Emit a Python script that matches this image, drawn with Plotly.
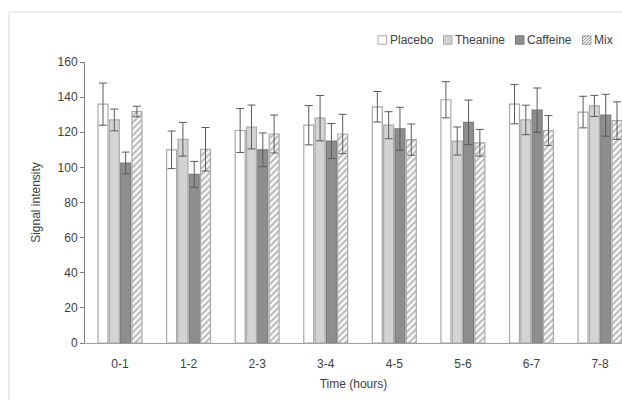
import plotly.graph_objects as go

categories = ["0-1", "1-2", "2-3", "3-4", "4-5", "5-6", "6-7", "7-8"]
series_names = ["Placebo", "Theanine", "Caffeine", "Mix"]
placebo = [136, 110, 121, 124, 134.5, 138.5, 136, 131.5]
placebo_err = [12, 10.7, 12.5, 11.2, 8.7, 10.3, 11.2, 9]
theanine = [127, 116, 123, 128, 124, 115, 127, 135]
theanine_err = [6.2, 9.6, 12.5, 12.9, 7.7, 8, 8.4, 6]
caffeine = [102.5, 96, 110, 115, 122, 125.6, 132.6, 129.7]
caffeine_err = [6.2, 7.4, 9.6, 10, 12.2, 12.7, 12.6, 11.9]
mix = [131.8, 110.3, 119, 119, 115.8, 114, 121, 126.6]
mix_err = [3, 12.4, 10.8, 11.2, 8.9, 7.6, 8.5, 10.7]
y_ticks = [0, 20, 40, 60, 80, 100, 120, 140, 160]

values = [placebo, theanine, caffeine, mix]
errors = [placebo_err, theanine_err, caffeine_err, mix_err]
fills = ["#ffffff", "#d3d3d3", "#8e8e8e", "#ffffff"]
lines = ["#a8a8a8", "#a8a8a8", "#7c7c7c", "#a8a8a8"]
HATCH = "#7a7a7a"

fig = go.Figure()
for i, name in enumerate(series_names):
    marker = dict(color=fills[i], line=dict(color=lines[i], width=1.2))
    if name == "Mix":
        marker["pattern"] = dict(shape="/", fgcolor=HATCH, bgcolor="#ffffff",
                                 size=4.5, solidity=0.5, fillmode="overlay")
    fig.add_trace(go.Bar(
        name=name, x=categories, y=values[i], marker=marker, showlegend=False,
        error_y=dict(type="data", array=errors[i], visible=True,
                     color="#5a5a5a", thickness=1, width=4),
    ))

W, H = 622, 400
L, R, T, B = 85, 0, 62, 57
pw, ph = W - L - R, H - T - B


def px(x):
    return (x - L) / pw


def py(y):
    return (H - B - y) / ph


# hand-drawn legend (plotly's legend spacing is too wide for this layout)
legend_box_x = [378, 443.5, 515.5, 582.5]
legend_y, box = 40, 8.5
shapes = []
annotations = []
for i, name in enumerate(series_names):
    a = legend_box_x[i]
    b = legend_y - box / 2
    shapes.append(dict(type="rect", xref="paper", yref="paper",
                       x0=px(a), x1=px(a + box), y0=py(b + box), y1=py(b),
                       fillcolor=fills[i], line=dict(color=lines[i], width=1)))
    if name == "Mix":
        segs = []
        for c in range(3, 17, 3):
            x_start = max(0, c - box)
            x_end = min(box, c)
            segs.append(f"M{px(a + x_start)},{py(b + c - x_start)} L{px(a + x_end)},{py(b + c - x_end)}")
        shapes.append(dict(type="path", xref="paper", yref="paper", path=" ".join(segs),
                           line=dict(color=HATCH, width=1)))
    annotations.append(dict(text=name, xref="paper", yref="paper", x=px(a + box + 1), y=py(legend_y),
                            xanchor="left", yanchor="middle", showarrow=False,
                            font=dict(size=12, color="#404040")))

# outer chart frame
shapes.append(dict(type="rect", xref="paper", yref="paper",
                   x0=px(9), x1=px(W + 10), y0=py(H + 10), y1=py(12),
                   line=dict(color="#d9d9d9", width=1), fillcolor="rgba(0,0,0,0)", layer="below"))

fig.update_layout(
    width=W, height=H, autosize=False,
    margin=dict(l=L, r=R, t=T, b=B),
    paper_bgcolor="white", plot_bgcolor="white",
    barmode="group", bargap=0.34, bargroupgap=0.12,
    font=dict(family="Liberation Sans, Arial, sans-serif", size=12, color="#404040"),
    showlegend=False,
    xaxis=dict(range=[-0.51, 7.32], showline=True, linecolor="#a0a0a0", linewidth=1,
               ticks="outside", ticklen=10, tickcolor="rgba(0,0,0,0)", showgrid=False,
               tickfont=dict(size=12, color="#404040"),
               title=dict(text="Time (hours)", font=dict(size=12, color="#404040"), standoff=9)),
    yaxis=dict(range=[0, 160], tickvals=y_ticks, showline=True, linecolor="#808080",
               linewidth=1, ticks="outside", ticklen=4, tickcolor="#808080",
               showgrid=False, zeroline=False, tickfont=dict(size=12, color="#404040"),
               title=dict(text="Signal intensity", font=dict(size=12, color="#404040"), standoff=14)),
    shapes=shapes,
    annotations=annotations,
)

fig.write_html("out.html", config={"responsive": False, "displayModeBar": False},
               post_script="document.body.style.margin='0';document.body.style.overflow='hidden';")
